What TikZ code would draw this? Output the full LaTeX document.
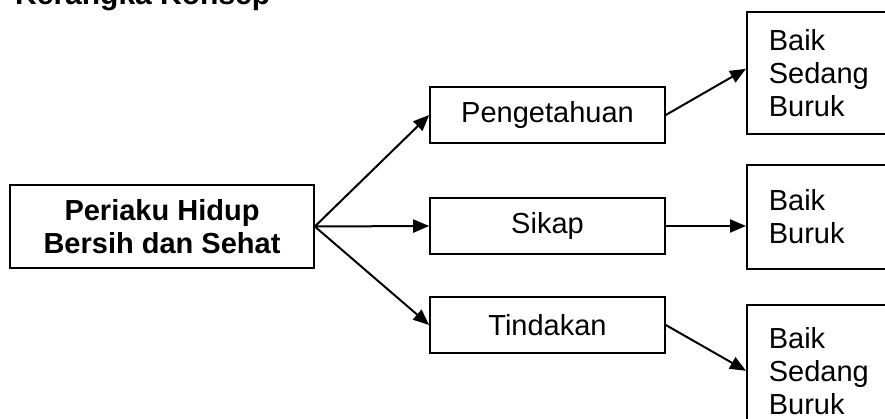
\documentclass[tikz,border=0pt]{standalone}
\usepackage{fontspec}
\setmainfont{Liberation Sans}
\usepackage{xcolor}
\usepackage{tikz}
\usetikzlibrary{arrows.meta, positioning, calc}

\tikzset{
  varbox/.style={draw, line width=1.6pt, minimum width=235pt, minimum height=56pt,
                 font=\fontsize{29}{33}\selectfont},
  hasilbox/.style={draw, line width=1.6pt, anchor=north west, align=left,
                   text width=120pt, inner xsep=22pt, font=\fontsize{29}{33}\selectfont},
  panah/.style={-{Triangle[length=16pt, width=13pt]}, line width=2pt}
}

\begin{document}
\begin{tikzpicture}[x=1pt, y=-1pt]
  \useasboundingbox (0,0) rectangle (885,419);
  \node[anchor=base west, inner sep=0pt, font=\bfseries\fontsize{30}{33}\selectfont] (judul) at (15,5) {Kerangka Konsep};

  % variabel utama
  \node[draw, line width=1.6pt, minimum width=304pt, minimum height=83pt, align=center,
        font=\bfseries\fontsize{29}{33}\selectfont] (phbs) at (162,226.5) {Periaku Hidup\\Bersih dan Sehat};

  \node[varbox] (tahu)  at (547.5,115) {Pengetahuan};
  \node[varbox] (sikap) at (547.5,226) {Sikap};
  \node[varbox] (tindak) at (547.5,325) {Tindakan};

  % kategori
  \node[hasilbox, minimum height=122pt] (kat1) at (746,11)  {Baik\\Sedang\\Buruk};
  \node[hasilbox, minimum height=104pt] (kat2) at (746,164) {Baik\\Buruk};
  \node[hasilbox, minimum height=132pt] (kat3) at (746,304) {Baik\\Sedang\\Buruk};

  \draw[panah] (phbs.east) -- (tahu.west);
  \draw[panah] (phbs.east) -- (sikap.west);
  \draw[panah] (phbs.east) -- (tindak.west);

  \draw[panah] (tahu.east) -- ($(kat1.west)+(0,-4)$);
  \draw[panah] (sikap.east) -- (sikap.east -| kat2.west);
  \draw[panah] (tindak.east) -- (kat3.west);
\end{tikzpicture}
\end{document}
